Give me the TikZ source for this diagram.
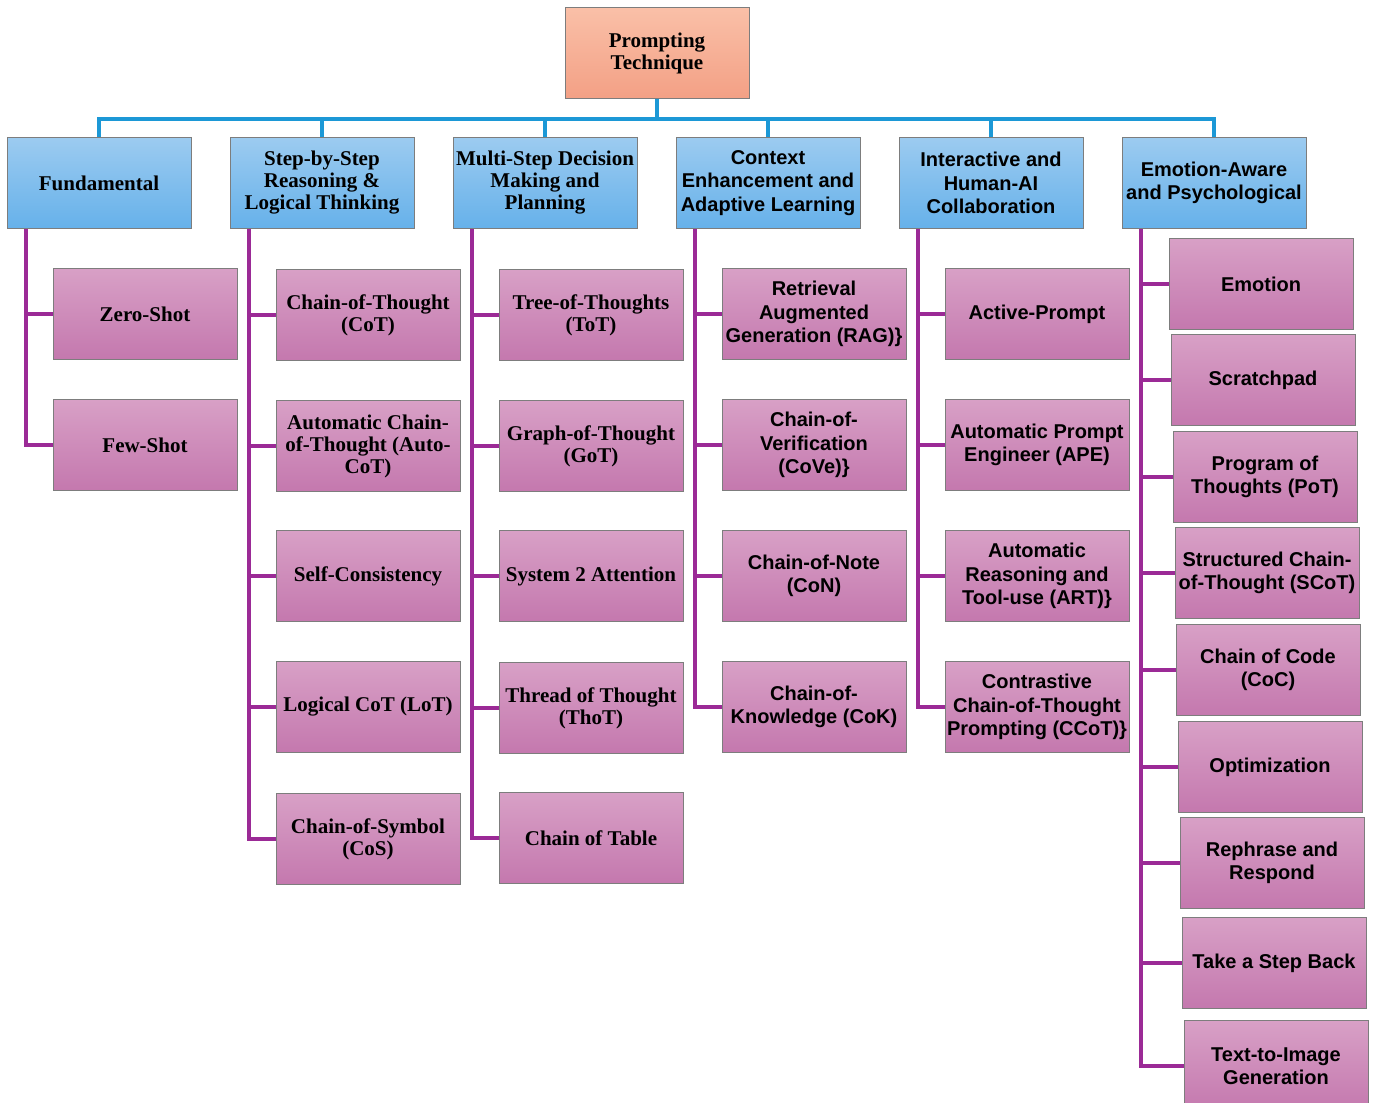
\documentclass[tikz,border=0pt]{standalone}
\usepackage{fontspec}
\setmainfont{Liberation Serif}
\newfontfamily\plainsans{Liberation Sans}
\usetikzlibrary{positioning}

\definecolor{rootTop}{RGB}{250,192,168}
\definecolor{rootBot}{RGB}{243,160,133}
\definecolor{catTop}{RGB}{156,203,240}
\definecolor{catBot}{RGB}{102,177,234}
\definecolor{leafTop}{RGB}{216,160,198}
\definecolor{leafBot}{RGB}{196,120,174}
\definecolor{boxEdge}{RGB}{125,125,125}
\definecolor{busBlue}{RGB}{28,152,214}
\definecolor{branchPurple}{RGB}{155,42,150}

\begin{document}
\begin{tikzpicture}[
    % one unit is one pixel of the reference, y runs downwards
    x=0.5pt, y=-0.5pt,
    boxbase/.style={draw=boxEdge, line width=0.5pt, minimum width=92pt,
        minimum height=45.5pt, inner sep=1pt, align=center},
    serifbold/.style={font=\fontsize{10.5}{11}\selectfont\bfseries},
    sansbold/.style={font=\fontsize{10}{11.75}\selectfont\plainsans\bfseries},
    rootbox/.style={boxbase, top color=rootTop, bottom color=rootBot, serifbold},
    catbox/.style={boxbase, top color=catTop, bottom color=catBot},
    leafbox/.style={boxbase, top color=leafTop, bottom color=leafBot},
    busline/.style={draw=busBlue, line width=2pt},
    branchline/.style={draw=branchPurple, line width=2pt}
]
    \useasboundingbox (0,0) rectangle (1377,1103);

    % --- Root ---
    \node[rootbox] (root) at (657,53) {Prompting\\Technique};
    \coordinate (busy) at (0,119);

    % --- Categories ---
    \node[catbox, serifbold] (fund)  at (99,183)   {Fundamental};
    \node[catbox, serifbold] (step)  at (322,183)  {Step-by-Step\\Reasoning \&\\Logical Thinking};
    \node[catbox, serifbold] (multi) at (545,183)  {Multi-Step Decision\\Making and\\Planning};
    \node[catbox, sansbold]  (ctx)   at (768,183)  {Context\\Enhancement and\\Adaptive Learning};
    \node[catbox, sansbold]  (inter) at (991,183)  {Interactive and\\Human-AI\\Collaboration};
    \node[catbox, sansbold]  (emo)   at (1214,183) {Emotion-Aware\\and Psychological};

    % --- Blue bus from the root to every category ---
    \draw[busline] (root.south) -- (root.south |- busy) -| (fund.north);
    \draw[busline] (root.south) -- (root.south |- busy) -| (step.north);
    \draw[busline] (root.south) -- (root.south |- busy) -| (multi.north);
    \draw[busline] (root.south) -- (root.south |- busy) -| (ctx.north);
    \draw[busline] (root.south) -- (root.south |- busy) -| (inter.north);
    \draw[busline] (root.south) -- (root.south |- busy) -| (emo.north);

    % --- Trunk starts ---
    \coordinate (fundT)  at ([xshift=9.5pt]fund.south west);
    \coordinate (stepT)  at ([xshift=9.5pt]step.south west);
    \coordinate (multiT) at ([xshift=9.5pt]multi.south west);
    \coordinate (ctxT)   at ([xshift=9.5pt]ctx.south west);
    \coordinate (interT) at ([xshift=9.5pt]inter.south west);
    \coordinate (emoT)   at ([xshift=9.5pt]emo.south west);

    % --- Fundamental ---
    \node[leafbox, serifbold] (zero) at (145,314) {Zero-Shot};
    \node[leafbox, serifbold] (few)  at (145,445) {Few-Shot};

    % --- Step-by-Step Reasoning ---
    \node[leafbox, serifbold] (cot)   at (368,315) {Chain-of-Thought\\(CoT)};
    \node[leafbox, serifbold] (acot)  at (368,446) {Automatic Chain-\\of-Thought (Auto-\\CoT)};
    \node[leafbox, serifbold] (sc)    at (368,576) {Self-Consistency};
    \node[leafbox, serifbold] (lot)   at (368,707) {Logical CoT (LoT)};
    \node[leafbox, serifbold] (cos)   at (368,839) {Chain-of-Symbol\\(CoS)};

    % --- Multi-Step Decision Making ---
    \node[leafbox, serifbold] (tot)   at (591,315) {Tree-of-Thoughts\\(ToT)};
    \node[leafbox, serifbold] (got)   at (591,446) {Graph-of-Thought\\(GoT)};
    \node[leafbox, serifbold] (sys2)  at (591,576) {System 2 Attention};
    \node[leafbox, serifbold] (thot)  at (591,708) {Thread of Thought\\(ThoT)};
    \node[leafbox, serifbold] (table) at (591,838) {Chain of Table};

    % --- Context Enhancement ---
    \node[leafbox, sansbold] (rag)  at (814,314) {Retrieval\\Augmented\\Generation (RAG)\}};
    \node[leafbox, sansbold] (cove) at (814,445) {Chain-of-\\Verification\\(CoVe)\}};
    \node[leafbox, sansbold] (con)  at (814,576) {Chain-of-Note\\(CoN)};
    \node[leafbox, sansbold] (cok)  at (814,707) {Chain-of-\\Knowledge (CoK)};

    % --- Interactive and Human-AI ---
    \node[leafbox, sansbold] (active) at (1037,314) {Active-Prompt};
    \node[leafbox, sansbold] (ape)    at (1037,445) {Automatic Prompt\\Engineer (APE)};
    \node[leafbox, sansbold] (art)    at (1037,576) {Automatic\\Reasoning and\\Tool-use (ART)\}};
    \node[leafbox, sansbold] (ccot)   at (1037,707) {Contrastive\\Chain-of-Thought\\Prompting (CCoT)\}};

    % --- Emotion-Aware (boxes drift slightly right) ---
    \node[leafbox, sansbold] (emotion) at (1261,284)  {Emotion};
    \node[leafbox, sansbold] (scratch) at (1263,380)  {Scratchpad};
    \node[leafbox, sansbold] (pot)     at (1265,477)  {Program of\\Thoughts (PoT)};
    \node[leafbox, sansbold] (scot)    at (1267,573)  {Structured Chain-\\of-Thought (SCoT)};
    \node[leafbox, sansbold] (coc)     at (1268,670)  {Chain of Code\\(CoC)};
    \node[leafbox, sansbold] (optim)   at (1270,767)  {Optimization};
    \node[leafbox, sansbold] (rephr)   at (1272,863)  {Rephrase and\\Respond};
    \node[leafbox, sansbold] (stepb)   at (1274,963)  {Take a Step Back};
    \node[leafbox, sansbold] (t2i)     at (1276,1066) {Text-to-Image\\Generation};

    % --- Purple branches ---
    \draw[branchline] (fundT) |- (zero.west);
    \draw[branchline] (fundT) |- (few.west);

    \draw[branchline] (stepT) |- (cot.west);
    \draw[branchline] (stepT) |- (acot.west);
    \draw[branchline] (stepT) |- (sc.west);
    \draw[branchline] (stepT) |- (lot.west);
    \draw[branchline] (stepT) |- (cos.west);

    \draw[branchline] (multiT) |- (tot.west);
    \draw[branchline] (multiT) |- (got.west);
    \draw[branchline] (multiT) |- (sys2.west);
    \draw[branchline] (multiT) |- (thot.west);
    \draw[branchline] (multiT) |- (table.west);

    \draw[branchline] (ctxT) |- (rag.west);
    \draw[branchline] (ctxT) |- (cove.west);
    \draw[branchline] (ctxT) |- (con.west);
    \draw[branchline] (ctxT) |- (cok.west);

    \draw[branchline] (interT) |- (active.west);
    \draw[branchline] (interT) |- (ape.west);
    \draw[branchline] (interT) |- (art.west);
    \draw[branchline] (interT) |- (ccot.west);

    \draw[branchline] (emoT) |- (emotion.west);
    \draw[branchline] (emoT) |- (scratch.west);
    \draw[branchline] (emoT) |- (pot.west);
    \draw[branchline] (emoT) |- (scot.west);
    \draw[branchline] (emoT) |- (coc.west);
    \draw[branchline] (emoT) |- (optim.west);
    \draw[branchline] (emoT) |- (rephr.west);
    \draw[branchline] (emoT) |- (stepb.west);
    \draw[branchline] (emoT) |- (t2i.west);
\end{tikzpicture}
\end{document}
